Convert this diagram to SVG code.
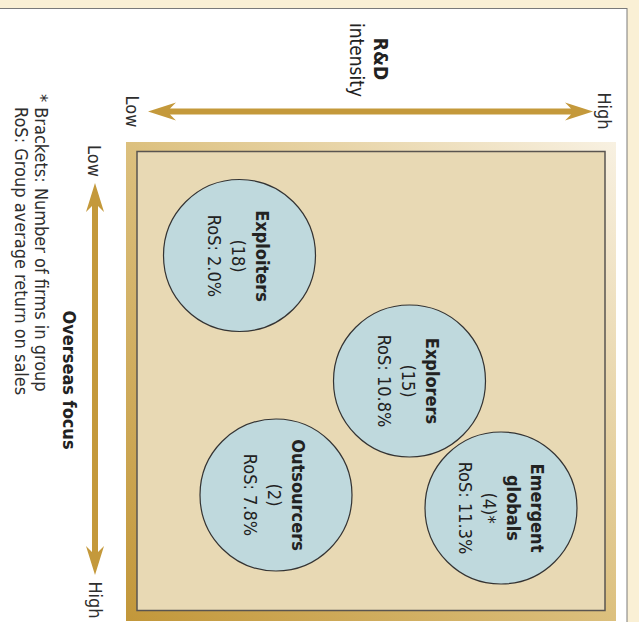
<svg xmlns="http://www.w3.org/2000/svg" width="639" height="622" viewBox="0 0 639 622">
  <defs>
    <linearGradient id="frameGrad" x1="0" y1="1" x2="1" y2="0">
      <stop offset="0" stop-color="#c2973a"/>
      <stop offset="0.5" stop-color="#dcc07e"/>
      <stop offset="1" stop-color="#f8f1e2"/>
    </linearGradient>
    <style>
      .lbl { font-family: "DejaVu Sans Condensed", "DejaVu Sans", sans-serif; font-stretch: condensed; fill: #222; }
      .node-t { font-size: 18px; text-anchor: middle; }
      .b { font-weight: bold; }
      .axis-t { font-size: 18px; fill: #2e2e2e; }
      .circle { fill: #bfd9dd; stroke: #333; stroke-width: 1.2; }
      .arrow { fill: #c4993b; }
    </style>
  </defs>

  <!-- background -->
  <rect x="0" y="0" width="639" height="622" fill="#faf0d5"/>
  <rect x="-1" y="8.5" width="628" height="620" fill="#ffffff" stroke="#7a7a7a" stroke-width="1"/>

  <!-- frame -->
  <g id="matrix">
    <rect x="126" y="142" width="490" height="479" fill="url(#frameGrad)"/>
    <rect x="137" y="151.5" width="468" height="459" fill="#e8d9b4" stroke="#5a5550" stroke-width="1.5"/>
  </g>

  <!-- axes -->
  <g id="axes">
    <path class="arrow" d="M148,111.5 L176,102.5 L170,108.5 L571,108.5 L565,102.5 L593,111.5 L565,120.5 L571,114.5 L170,114.5 L176,120.5 Z"/>
    <path class="arrow" d="M95,183 L104,212 L98,206 L98,552 L104,546 L95,575 L86,546 L92,552 L92,206 L86,212 Z"/>
  </g>

  <!-- axis labels -->
  <g id="axis-labels" class="lbl">
    <text class="b" font-size="19" text-anchor="middle" transform="translate(374,59) rotate(90)">R&amp;D</text>
    <text font-size="19" text-anchor="middle" transform="translate(350,60) rotate(90)">intensity</text>
    <text class="axis-t" text-anchor="middle" transform="translate(126,111.5) rotate(90)">Low</text>
    <text class="axis-t" text-anchor="middle" transform="translate(598,111) rotate(90)">High</text>
    <text class="axis-t" text-anchor="middle" transform="translate(88,161) rotate(90)">Low</text>
    <text class="axis-t" text-anchor="middle" transform="translate(89,600) rotate(90)">High</text>
    <text class="b" font-size="18" text-anchor="middle" transform="translate(63,380) rotate(90)">Overseas focus</text>
  </g>

  <!-- footnote -->
  <g id="footnote" class="lbl">
    <text class="axis-t" transform="translate(35,94) rotate(90)">* Brackets: Number of firms in group</text>
    <text class="axis-t" transform="translate(15,107) rotate(90)">RoS: Group average return on sales</text>
  </g>

  <!-- nodes -->
  <g id="exploiters">
    <circle class="circle" cx="239.5" cy="255.5" r="76"/>
    <text class="lbl node-t" transform="translate(256,256) rotate(90)"><tspan class="b" x="0" y="0">Exploiters</tspan><tspan x="0" dy="24">(18)</tspan><tspan x="0" dy="24">RoS: 2.0%</tspan></text>
  </g>
  <g id="explorers">
    <circle class="circle" cx="409.5" cy="381" r="76"/>
    <text class="lbl node-t" transform="translate(426,381) rotate(90)"><tspan class="b" x="0" y="0">Explorers</tspan><tspan x="0" dy="24">(15)</tspan><tspan x="0" dy="24">RoS: 10.8%</tspan></text>
  </g>
  <g id="outsourcers">
    <circle class="circle" cx="276" cy="495" r="76"/>
    <text class="lbl node-t" transform="translate(292,495) rotate(90)"><tspan class="b" x="0" y="0">Outsourcers</tspan><tspan x="0" dy="24">(2)</tspan><tspan x="0" dy="24">RoS: 7.8%</tspan></text>
  </g>
  <g id="emergent-globals">
    <circle class="circle" cx="501" cy="508" r="76"/>
    <text class="lbl node-t" transform="translate(531,508) rotate(90)"><tspan class="b" x="0" y="0">Emergent</tspan><tspan class="b" x="0" dy="24">globals</tspan><tspan x="0" dy="24">(4)*</tspan><tspan x="0" dy="24">RoS: 11.3%</tspan></text>
  </g>
</svg>
